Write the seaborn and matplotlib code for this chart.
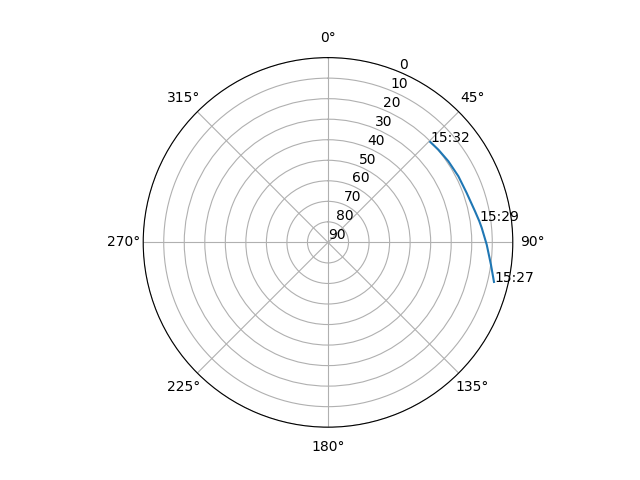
import numpy as np
import matplotlib
matplotlib.use("Agg")
import matplotlib.pyplot as plt
import seaborn as sns

# satellite track (azimuth deg, elevation deg)
azimuth = [103.4, 97.8, 90.8, 84.6, 82.0, 78.1, 70.4, 63.1, 56.0, 50.0, 45.5]
elevation = [6.9, 9.9, 12.7, 14.8, 15.6, 16.8, 18.3, 18.8, 19.3, 19.8, 20.2]
time_labels = {0: "15:27", 4: "15:29", 10: "15:32"}
r_ticks = [0, 10, 20, 30, 40, 50, 60, 70, 80, 90]

fig = plt.figure(figsize=(6.4, 4.8), dpi=100)
ax = fig.add_subplot(111, projection="polar")
ax.set_theta_zero_location("N")
ax.set_theta_direction(-1)

theta = np.radians(azimuth)
sns.lineplot(x=theta, y=elevation, ax=ax, sort=False, color="#1f77b4")

for i, lab in time_labels.items():
    ax.text(theta[i], elevation[i], lab)

ax.set_rlim(90, 0)
ax.set_yticks(r_ticks)
ax.set_yticklabels([str(t) for t in r_ticks])

fig.savefig("out.png")
